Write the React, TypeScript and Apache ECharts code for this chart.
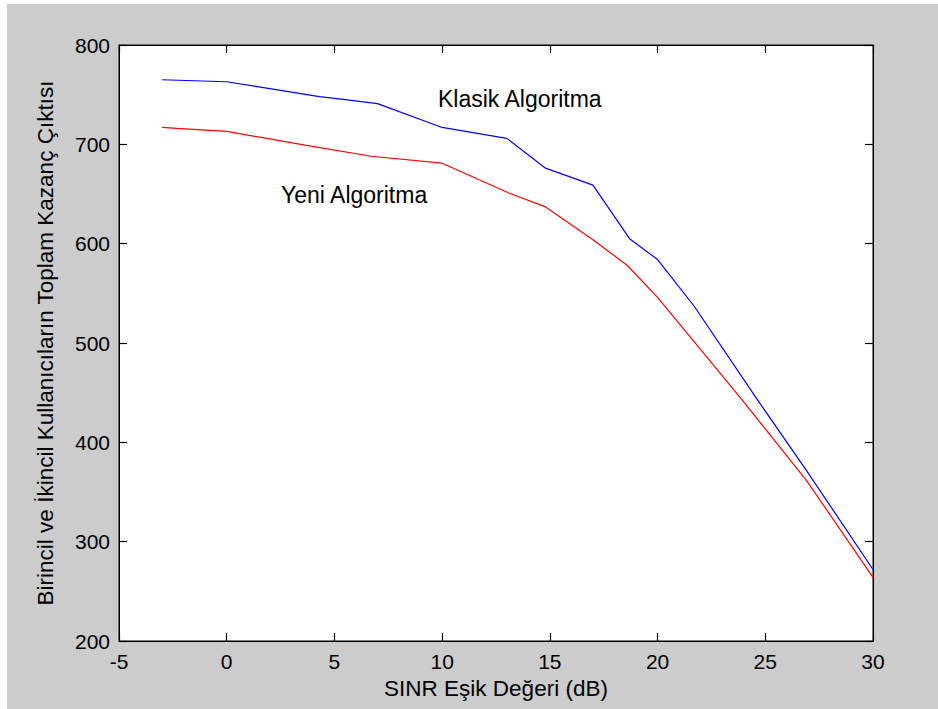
import React, { useEffect, useRef } from "react";
import * as echarts from "echarts";

const klasikX = [-3, -1.5, 0, 2, 4.3, 5.5, 7, 10, 13, 14.8, 17, 18.7, 20, 21.7, 24.6, 26.9, 30];
const klasikY = [765, 764, 763, 756, 748, 745, 741, 717, 706, 676, 659, 605, 584, 537, 444, 372, 272];
const yeniX = [-3, -2.3, 0, 3.7, 6.7, 10, 13.1, 14.8, 17, 18.6, 20, 23.8, 26.9, 30];
const yeniY = [717, 716, 713, 699, 688, 681, 651, 637, 604, 578, 546, 446, 362, 264];
const xTicks = [-5, 0, 5, 10, 15, 20, 25, 30];
const yTicks = [200, 300, 400, 500, 600, 700, 800];
const xTitle = "SINR Eşik Değeri (dB)";
const yTitle = "Birincil ve İkincil Kullanıcıların Toplam Kazanç Çıktısı";
const labelKlasik = "Klasik Algoritma";
const labelYeni = "Yeni Algoritma";

const FONT = "'Liberation Sans', Arial, sans-serif";
const TICK_LEN = 8;

function axisLine() {
  return { show: true, onZero: false, lineStyle: { color: "#000", width: 1 } };
}
function tick() {
  return { show: true, inside: true, length: TICK_LEN, lineStyle: { color: "#000", width: 1.2 } };
}

export default function App() {
  const ref = useRef<HTMLDivElement>(null);
  useEffect(() => {
    if (!ref.current) return;
    const chart = echarts.init(ref.current, undefined, { renderer: "svg" });
    const xMin = xTicks[0];
    const xMax = xTicks[xTicks.length - 1];
    const yMin = yTicks[0];
    const yMax = yTicks[yTicks.length - 1];
    chart.setOption({
      animation: false,
      backgroundColor: "#cccccc",
      grid: {
        left: 112,
        top: 41,
        right: 65,
        bottom: 68,
        show: true,
        backgroundColor: "#ffffff",
        borderColor: "#000",
        borderWidth: 1,
      },
      xAxis: [
        {
          type: "value",
          min: xMin,
          max: xMax,
          interval: 5,
          position: "bottom",
          axisLine: axisLine(),
          axisTick: tick(),
          splitLine: { show: false },
          axisLabel: { color: "#000", fontSize: 21, fontFamily: FONT, margin: 10 },
          name: xTitle,
          nameLocation: "middle",
          nameGap: 36,
          nameTextStyle: { color: "#000", fontSize: 22.5, fontFamily: FONT, verticalAlign: "top" },
        },
        {
          type: "value",
          min: xMin,
          max: xMax,
          interval: 5,
          position: "top",
          axisLine: axisLine(),
          axisTick: tick(),
          splitLine: { show: false },
          axisLabel: { show: false },
        },
      ],
      yAxis: [
        {
          type: "value",
          min: yMin,
          max: yMax,
          interval: 100,
          position: "left",
          axisLine: axisLine(),
          axisTick: tick(),
          splitLine: { show: false },
          axisLabel: { color: "#000", fontSize: 21, fontFamily: FONT, margin: 9 },
          name: yTitle,
          nameLocation: "middle",
          nameGap: 62,
          nameTextStyle: { color: "#000", fontSize: 22.5, fontFamily: FONT },
        },
        {
          type: "value",
          min: yMin,
          max: yMax,
          interval: 100,
          position: "right",
          axisLine: axisLine(),
          axisTick: tick(),
          splitLine: { show: false },
          axisLabel: { show: false },
        },
      ],
      series: [
        {
          name: labelKlasik,
          type: "line",
          data: klasikX.map((x, i) => [x, klasikY[i]]),
          showSymbol: false,
          lineStyle: { color: "#0000ff", width: 1.2 },
          itemStyle: { color: "#0000ff" },
        },
        {
          name: labelYeni,
          type: "line",
          data: yeniX.map((x, i) => [x, yeniY[i]]),
          showSymbol: false,
          lineStyle: { color: "#ff0000", width: 1.2 },
          itemStyle: { color: "#ff0000" },
        },
      ],
      graphic: [
        {
          type: "text",
          left: 431,
          top: 83,
          style: { text: labelKlasik, fill: "#000", font: `23px ${FONT}` },
        },
        {
          type: "text",
          left: 274,
          top: 179,
          style: { text: labelYeni, fill: "#000", font: `23px ${FONT}` },
        },
      ],
    });
    return () => chart.dispose();
  }, []);
  return (
    <div style={{ position: "absolute", left: 0, top: 0, width: 938, height: 709, background: "#ffffff" }}>
      <div
        ref={ref}
        style={{ position: "absolute", left: 7, top: 4, width: 931, height: 705 }}
      />
    </div>
  );
}
